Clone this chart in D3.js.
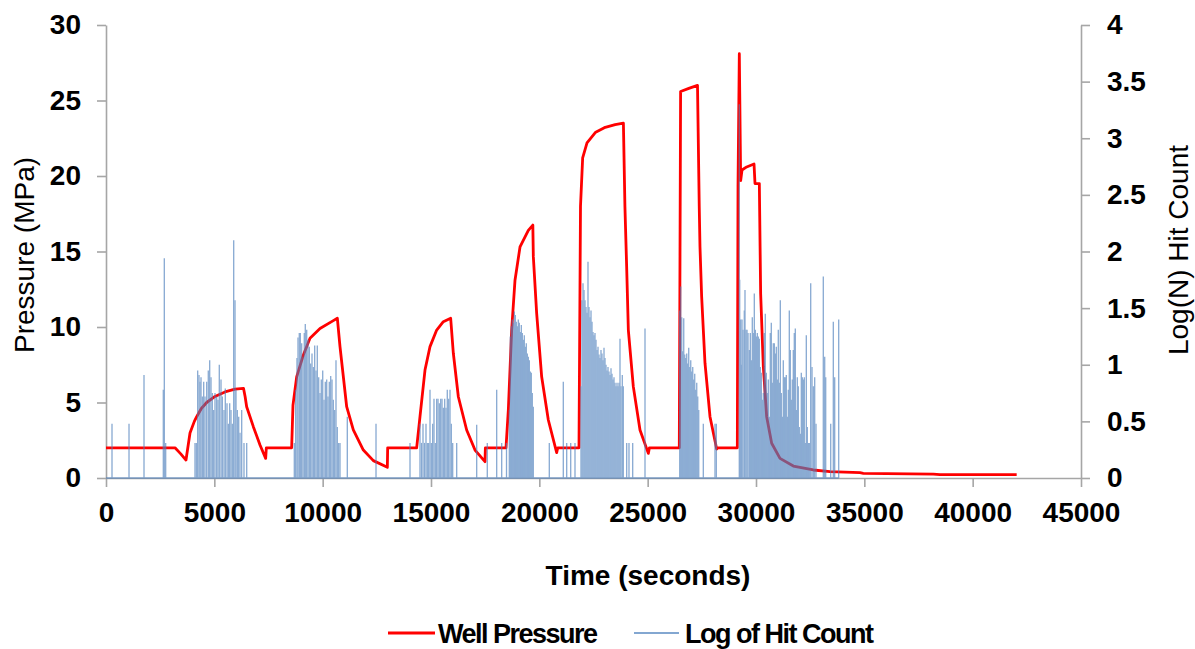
<!DOCTYPE html>
<html>
<head>
<meta charset="utf-8">
<script src="https://cdnjs.cloudflare.com/ajax/libs/d3/7.8.5/d3.min.js"></script>
<style>
  body { margin: 0; background: #fff; }
  text { font-family: "Liberation Sans", Arial, sans-serif; }
</style>
</head>
<body>
<div id="chart"></div>
<script>
// DATA
// well pressure curve: time (s) and pressure (MPa)
var pressureTime = [0, 3185, 3450, 3692, 3877, 4077, 4185, 4400, 4646, 5030, 5492, 5954, 6346,
  6420, 6492, 6800, 7108, 7369, 7400, 8569, 8630, 8800, 9108, 9415, 9877, 10492, 10677,
  10800, 11108, 11415, 11877, 12338, 12985, 13000, 14338, 14492, 14723, 14954, 15262, 15569, 15908,
  16031, 16262, 16646, 17031, 17492, 17510, 18461, 18569, 18723, 18877, 19108, 19492, 19700,
  19723, 19877, 20108, 20415, 20800, 20850, 21830, 21900, 22000, 22200, 22600, 23000, 23500, 23880,
  23950, 24030, 24108, 24338, 24646, 25031, 25080, 26460, 26520, 26900, 27300,
  27380, 27415, 27492, 27646, 27877, 28185, 28250, 29138, 29170, 29230, 29292, 29354, 29569, 29908, 29954, 30154,
  30215, 30338, 30492, 30723, 31108, 31723, 32646, 33415, 34800, 34954, 38185, 38492, 42031];
var pressureValue = [2.0, 2.0, 1.6, 1.19, 2.98, 3.75, 4.06, 4.6, 5.0, 5.4, 5.7, 5.88, 5.94,
  5.4, 4.72, 3.4, 2.19, 1.3, 2.0, 2.0, 4.83, 6.7, 8.15, 9.25, 9.9, 10.42, 10.58,
  8.7, 4.72, 3.18, 1.85, 1.15, 0.71, 2.0, 2.0, 4.06, 7.15, 8.7, 9.8, 10.35, 10.58,
  8.26, 5.38, 3.18, 1.85, 1.08, 2.0, 2.0, 4.5, 9.8, 13.1, 15.3, 16.4, 16.75,
  14.66, 10.9, 6.7, 3.84, 1.68, 2.0, 2.0, 18, 21.2, 22.2, 22.9, 23.2, 23.4, 23.5,
  18, 14, 9.8, 6.05, 3.18, 1.63, 2.0, 2.0, 25.6, 25.8, 26.0,
  18, 15.3, 12.0, 7.6, 4.06, 1.92, 2.0, 2.0, 19.3, 28.1, 19.7, 20.4, 20.6, 20.8, 19.5, 19.5,
  12.2, 7.37, 4.06, 2.3, 1.3, 0.79, 0.53, 0.42, 0.35, 0.31, 0.26, 0.22, 0.22];

// log of hit count: time (s) and log10(N)
var hitTime = [277, 1062, 1754, 2645, 2691, 2755,
  4108, 4168, 4232, 4292, 4338, 4385, 4445, 4509, 4569, 4648, 4721, 4786, 4846, 4906, 4971, 5031,
  5109, 5169, 5229, 5308, 5368, 5446, 5506, 5585, 5645, 5709, 5769, 5829, 5894, 5954, 6000, 6060,
  6125, 6185, 6263, 6369, 6494,
  8691, 8755, 8815, 8862, 8921, 8968, 9032, 9092, 9152, 9198, 9263, 9323, 9383, 9448, 9508, 9568,
  9632, 9692, 9752, 9817, 9877, 9937, 10002, 10062, 10122, 10186, 10246, 10306, 10371, 10431, 10491,
  10555, 10615, 10675, 10740, 10800,
  11137, 12462, 14031,
  14492, 14561, 14631, 14700, 14769, 14829, 14894, 14954, 15014, 15078, 15138, 15198, 15262, 15323,
  15383, 15448, 15508, 15568, 15632, 15692, 15752, 15817, 15877, 15937, 16001,
  16186, 17109, 17598, 18032, 18263, 18485,
  18614, 18660, 18706, 18752, 18798, 18845, 18891, 18937, 18983, 19029, 19075, 19122, 19168, 19214,
  19260, 19306, 19352, 19398, 19445, 19491, 19537, 19583, 19629, 19675, 19721,
  20460, 21106, 21263, 21448, 21646,
  21923, 21969, 22015, 22062, 22108, 22154, 22200, 22246, 22292, 22338, 22385, 22431, 22477, 22523,
  22569, 22615, 22662, 22708, 22754, 22800, 22846, 22892, 22938, 22985, 23031, 23077, 23123, 23169,
  23215, 23262, 23308, 23354, 23400, 23446, 23492, 23538, 23585, 23631, 23677, 23723, 23769, 23829, 23875,
  24032, 24138, 24309, 24877,
  26480, 26526, 26572, 26618, 26665, 26711, 26757, 26803, 26849, 26895, 26942, 26988, 27034, 27080,
  27126, 27172, 27218, 27265, 27311, 27357,
  27568, 28108, 28168,
  29229, 29248, 29294, 29322, 29354, 29400, 29460, 29492, 29538, 29585, 29631, 29691, 29737, 29783,
  29829, 29875, 29922, 29968, 30014, 30060, 30106, 30152, 30198, 30245, 30291, 30337, 30383, 30429,
  30475, 30521, 30568, 30614, 30660, 30706, 30752, 30798, 30845, 30891, 30937, 30983, 31029, 31075,
  31122, 31168, 31214, 31260, 31306, 31352, 31398, 31445, 31491, 31537, 31583, 31629, 31675, 31722,
  31768, 31814, 31860, 31906, 31952, 31998, 32045, 32091, 32137, 32183, 32229, 32275, 32322, 32368,
  32414, 32460, 32525, 32585, 32645, 32709, 32769, 33106, 33171, 33217, 33448, 33568, 33632, 33817];
var hitValue = [0.48, 0.48, 0.91, 0.78, 1.94, 0.31,
  0.31, 0.31, 0.95, 0.91, 0.85, 0.89, 0.72, 0.85, 0.72, 0.85, 0.95, 1.04, 0.89, 0.75, 0.6, 0.75,
  0.72, 0.69, 1.0, 0.87, 0.72, 0.6, 0.79, 0.66, 0.48, 0.66, 0.6, 0.48, 2.1, 1.57, 0.78, 0.6,
  0.54, 0.4, 0.6, 0.31, 0.31,
  0.31, 0.78, 1.06, 1.24, 1.28, 1.28, 1.19, 1.07, 1.28, 1.36, 1.31, 1.22, 1.16, 1.01, 1.10, 0.98,
  1.17, 0.95, 1.17, 0.89, 0.75, 0.87, 0.95, 0.69, 0.85, 0.87, 0.72, 0.85, 0.9, 0.87, 0.69,
  0.6, 1.04, 0.45, 0.31, 0.31,
  0.54, 0.48, 0.31,
  0.48, 0.31, 0.48, 0.31, 0.48, 0.31, 0.31, 0.78, 0.31, 0.48, 0.70, 0.31, 0.70, 0.70,
  0.66, 0.70, 0.70, 0.62, 0.70, 0.62, 0.78, 0.70, 0.78, 0.48, 0.31,
  0.31, 0.47, 0.31, 0.78, 0.31, 0.31,
  0.6, 1.25, 1.34, 1.40, 1.37, 1.47, 1.44, 1.38, 1.34, 1.40, 1.37, 1.29, 1.35, 1.28,
  1.22, 1.26, 1.16, 1.19, 1.10, 1.07, 1.04, 0.94, 0.93, 0.75, 0.63,
  0.31, 0.85, 0.31, 0.31, 0.31,
  0.81, 1.57, 1.72, 1.66, 1.57, 1.51, 1.46, 1.91, 1.51, 1.42, 1.48, 1.38, 1.29, 1.26,
  1.28, 1.22, 1.13, 1.16, 1.09, 1.06, 1.13, 1.10, 1.04, 1.15, 1.06, 1.0, 0.95, 0.98,
  0.94, 0.91, 0.97, 0.92, 0.87, 0.89, 0.84, 0.81, 0.84, 0.81, 0.84, 1.23, 0.81, 0.91, 0.81,
  0.31, 0.31, 0.31, 1.32,
  1.48, 1.69, 1.42, 1.12, 1.41, 1.09, 1.06, 1.10, 1.01, 1.15, 0.98, 1.04, 0.94, 0.98,
  0.87, 0.92, 0.78, 0.84, 0.72, 0.6,
  0.48, 0.48, 0.48,
  3.3, 1.75, 1.40, 1.0, 1.40, 1.31, 1.48, 1.66, 1.31, 1.31, 1.28, 1.13, 1.28, 1.04,
  1.42, 1.28, 1.63, 1.31, 1.25, 1.28, 1.25, 1.23, 0.98, 0.93, 0.69, 0.75, 1.28, 1.45,
  0.93, 0.75, 0.87, 0.54, 1.28, 1.37, 0.84, 1.19, 1.19, 1.10, 1.16, 0.87, 1.31, 0.84,
  1.57, 0.75, 0.54, 1.04, 0.89, 0.89, 0.91, 0.54, 0.78, 1.48, 1.13, 0.69, 0.87, 1.13,
  1.28, 1.32, 0.6, 0.89, 0.81, 0.45, 0.39, 0.93, 0.89, 0.87, 0.89, 0.31, 1.26, 0.45,
  0.31, 0.31, 1.72, 0.98, 0.81, 0.89, 0.48, 1.78, 1.07, 0.89, 0.48, 1.38, 0.89, 1.40];

var xTicks = [0, 5000, 10000, 15000, 20000, 25000, 30000, 35000, 40000, 45000];
var leftTicks = [0, 5, 10, 15, 20, 25, 30];
var rightTicks = [0, 0.5, 1, 1.5, 2, 2.5, 3, 3.5, 4];

// SETUP
var width = 1195;
var height = 649;
var plot = { left: 106, right: 1081, top: 25, bottom: 478 };
var axisColor = "#a6a6a6";
var redColor = "#ff0000";
var blueColor = "#4f81bd";

var svg = d3
  .select("#chart")
  .append("svg")
  .attr("width", width)
  .attr("height", height);

var x = d3.scaleLinear().domain([0, 45000]).range([plot.left, plot.right]);
var yLeft = d3.scaleLinear().domain([0, 30]).range([plot.bottom, plot.top]);
var yRight = d3.scaleLinear().domain([0, 4]).range([plot.bottom, plot.top]);

// AXES
function styleAxis(g) {
  g.select(".domain").attr("stroke", axisColor).attr("stroke-width", 1.6);
  g.selectAll(".tick line").attr("stroke", axisColor).attr("stroke-width", 1.6);
  g.selectAll(".tick text")
    .attr("fill", "#000")
    .style("font-size", "28px")
    .style("font-weight", "bold")
    .style("font-family", "'Liberation Sans', Arial, sans-serif");
}

svg
  .append("g")
  .attr("transform", "translate(0," + plot.bottom + ")")
  .call(d3.axisBottom(x).tickValues(xTicks).tickSize(9).tickSizeOuter(0).tickPadding(15).tickFormat(d3.format("d")))
  .call(styleAxis);

svg
  .append("g")
  .attr("transform", "translate(" + plot.left + ",0)")
  .call(d3.axisLeft(yLeft).tickValues(leftTicks).tickSize(9).tickSizeOuter(0).tickPadding(16))
  .call(styleAxis);

svg
  .append("g")
  .attr("transform", "translate(" + plot.right + ",0)")
  .call(d3.axisRight(yRight).tickValues(rightTicks).tickSize(9).tickSizeOuter(0).tickPadding(17).tickFormat(d3.format("")))
  .call(styleAxis);

// AXIS TITLES
svg
  .append("text")
  .attr("transform", "translate(34,255) rotate(-90)")
  .attr("text-anchor", "middle")
  .style("font-size", "28px")
  .text("Pressure (MPa)");

svg
  .append("text")
  .attr("transform", "translate(1188,250) rotate(-90)")
  .attr("text-anchor", "middle")
  .style("font-size", "28px")
  .text("Log(N) Hit Count");

svg
  .append("text")
  .attr("x", 648)
  .attr("y", 585)
  .attr("text-anchor", "middle")
  .style("font-size", "28px")
  .style("font-weight", "bold")
  .text("Time (seconds)");

// WELL PRESSURE LINE
var pressureData = pressureTime.map(function (t, i) {
  return [t, pressureValue[i]];
});

var line = d3
  .line()
  .x(function (d) { return x(d[0]); })
  .y(function (d) { return yLeft(d[1]); });

svg
  .append("path")
  .datum(pressureData)
  .attr("d", line)
  .attr("fill", "none")
  .attr("stroke", redColor)
  .attr("stroke-width", 2.8)
  .attr("stroke-linejoin", "round");

// HIT COUNT SPIKES (drawn on top, semi transparent)
var hitData = hitTime.map(function (t, i) {
  return { t: t, v: hitValue[i] };
});

var hits = svg.append("g").attr("opacity", 0.68);

hits
  .append("line")
  .attr("x1", x(0))
  .attr("x2", x(d3.max(hitTime)))
  .attr("y1", yRight(0))
  .attr("y2", yRight(0))
  .attr("stroke", blueColor)
  .attr("stroke-width", 1.6);

hits
  .selectAll("line.spike")
  .data(hitData)
  .enter()
  .append("line")
  .attr("class", "spike")
  .attr("x1", function (d) { return x(d.t); })
  .attr("x2", function (d) { return x(d.t); })
  .attr("y1", yRight(0))
  .attr("y2", function (d) { return yRight(d.v); })
  .attr("stroke", blueColor)
  .attr("stroke-width", 1.3);

// LEGEND
var legend = svg.append("g");

legend
  .append("line")
  .attr("x1", 388).attr("x2", 435)
  .attr("y1", 633).attr("y2", 633)
  .attr("stroke", redColor)
  .attr("stroke-width", 3);

legend
  .append("text")
  .attr("x", 438)
  .attr("y", 643)
  .style("font-size", "27px")
  .style("font-weight", "bold")
  .style("letter-spacing", "-1.5px")
  .text("Well Pressure");

legend
  .append("line")
  .attr("x1", 634).attr("x2", 679)
  .attr("y1", 633).attr("y2", 633)
  .attr("stroke", blueColor)
  .attr("stroke-opacity", 0.7)
  .attr("stroke-width", 2);

legend
  .append("text")
  .attr("x", 685)
  .attr("y", 643)
  .style("font-size", "27px")
  .style("font-weight", "bold")
  .style("letter-spacing", "-1.5px")
  .text("Log of Hit Count");
</script>
</body>
</html>
